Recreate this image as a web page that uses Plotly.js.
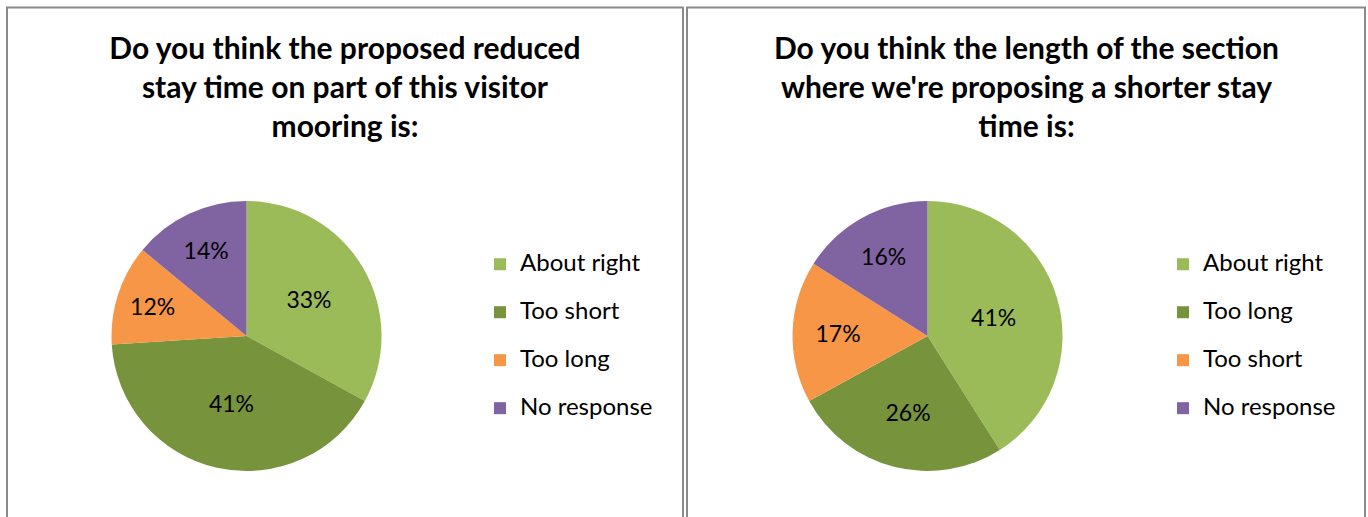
<!DOCTYPE html>
<html>
<head>
<meta charset="utf-8">
<script src="https://cdn.plot.ly/plotly-3.0.1.min.js"></script>
<style>
  html, body { margin: 0; padding: 0; background: #ffffff; }
  #chart { width: 1368px; height: 517px; }
</style>
</head>
<body>
<div id="chart"></div>
<script>
// ---- data ----
const leftTitle = 'Do you think the proposed reduced<br>stay time on part of this visitor<br>mooring is:';
const leftLabels = ['About right', 'Too short', 'Too long', 'No response'];
const leftValues = [33, 41, 12, 14];

const rightTitle = 'Do you think the length of the section<br>where we\'re proposing a shorter stay<br>time is:';
const rightLabels = ['About right', 'Too long', 'Too short', 'No response'];
const rightValues = [41, 26, 17, 16];

const sliceColors = ['#9BBB59', '#77933C', '#F79646', '#8064A2'];

// ---- layout helpers ----
const W = 1368, H = 517;
const px = v => v / W;
const py = v => 1 - v / H;
const FONT = 'Lato, "Open Sans", "DejaVu Sans", sans-serif';

// legend label: blank first line gives each entry extra height
const legendLabel = s => ' <br><span style="font-size:24px">' + s + '</span>';

function pieTrace(labels, values, domainX, legendId, group) {
  return {
    type: 'pie',
    labels: labels.map(legendLabel),
    values: values,
    sort: false,
    direction: 'clockwise',
    rotation: 0,
    marker: { colors: sliceColors, line: { width: 0 } },
    textinfo: 'percent',
    textposition: 'inside',
    insidetextorientation: 'horizontal',
    textfont: { family: FONT, size: 23, color: '#000000' },
    hoverinfo: 'none',
    domain: { x: domainX, y: [py(471), py(201)] },
    legend: legendId,
    legendgroup: group
  };
}

const data = [
  pieTrace(leftLabels, leftValues, [px(111.5), px(381.5)], 'legend', 'left'),
  pieTrace(rightLabels, rightValues, [px(792.5), px(1062.5)], 'legend2', 'right')
];

const legendCommon = {
  orientation: 'v',
  traceorder: 'normal',
  xanchor: 'left',
  yanchor: 'top',
  valign: 'bottom',
  bgcolor: 'rgba(0,0,0,0)',
  borderwidth: 0,
  font: { family: FONT, size: 17.3, color: '#000000' }
};

const titleFont = { family: FONT, size: 30, color: '#000000', weight: 'bold' };

const layout = {
  width: W,
  height: H,
  margin: { l: 0, r: 0, t: 0, b: 0 },
  paper_bgcolor: '#ffffff',
  plot_bgcolor: '#ffffff',
  showlegend: true,
  title: {
    text: leftTitle,
    x: px(345), xanchor: 'center', xref: 'paper',
    y: py(59), yanchor: 'top', yref: 'container',
    font: titleFont
  },
  annotations: [{
    text: rightTitle,
    x: px(1026), xanchor: 'center', xref: 'paper',
    y: py(27), yanchor: 'top', yref: 'paper',
    showarrow: false, align: 'center',
    font: titleFont
  }],
  legend: Object.assign({}, legendCommon, { x: px(480), y: py(224) }),
  legend2: Object.assign({}, legendCommon, { x: px(1163), y: py(224) }),
  shapes: [
    { type: 'rect', xref: 'paper', yref: 'paper', x0: px(7), x1: px(683), y0: -0.2, y1: py(7.5),
      line: { color: '#8a8a8a', width: 2 }, fillcolor: 'rgba(0,0,0,0)' },
    { type: 'rect', xref: 'paper', yref: 'paper', x0: px(687), x1: px(1365), y0: -0.2, y1: py(7.5),
      line: { color: '#8a8a8a', width: 2 }, fillcolor: 'rgba(0,0,0,0)' }
  ]
};

Plotly.newPlot('chart', data, layout, { displayModeBar: false, staticPlot: true });
</script>
</body>
</html>
